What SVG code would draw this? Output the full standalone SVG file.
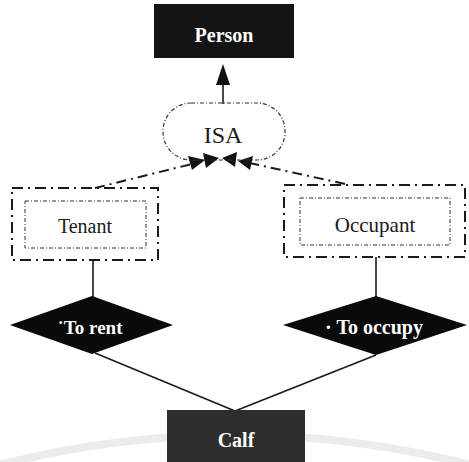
<svg xmlns="http://www.w3.org/2000/svg" width="469" height="462" viewBox="0 0 469 462">
<style>
.ent{fill:#141414}
.calf{fill:#2e2e2e}
.rel{fill:#0a0a0a}
.wt{font-family:"Liberation Serif",serif;font-weight:bold;fill:#fff;text-anchor:middle}
.bt{font-family:"Liberation Serif",serif;fill:#1a1a1a;text-anchor:middle}
.outer{fill:none;stroke:#1a1a1a;stroke-width:2;stroke-dasharray:11 5 2 5}
.inner{fill:none;stroke:#333;stroke-width:1;stroke-dasharray:4 2 1 2}
.isa{fill:none;stroke:#333;stroke-width:1.2;stroke-dasharray:4 2 1 2}
.dd{fill:none;stroke:#1a1a1a;stroke-width:2;stroke-dasharray:10 5 2 5}
.solid{fill:none;stroke:#1a1a1a;stroke-width:1.6}
.head{fill:#111}
</style>
<rect width="469" height="462" fill="#fff"/>
<path d="M-20,470 Q235,400 490,470" fill="none" stroke="#ececec" stroke-width="8"/>
<g id="connectors">
<line class="solid" x1="223" y1="104" x2="223" y2="82"/>
<polygon class="head" points="223,64 216,85 230,85"/>
<line class="dd" x1="95" y1="188" x2="200" y2="162"/>
<polygon class="head" points="205,160 188,156 192,170"/>
<polygon class="head" points="219,158 203,153 206,168"/>
<line class="dd" x1="345" y1="184" x2="245" y2="162"/>
<polygon class="head" points="222,158 237,152 235,167"/>
<polygon class="head" points="238,161 253,156 250,170"/>
<line class="solid" x1="93" y1="260" x2="93" y2="297"/>
<line class="solid" x1="376" y1="257" x2="376" y2="297"/>
<line class="solid" x1="95" y1="353" x2="235" y2="411"/>
<line class="solid" x1="376" y1="355" x2="235" y2="411"/>
</g>
<g id="person">
<rect class="ent" x="154" y="4" width="140" height="54"/>
<text class="wt" x="224" y="42" font-size="20">Person</text>
</g>
<g id="isa">
<rect class="isa" x="163" y="103" width="122" height="57" rx="28" ry="28"/>
<text class="bt" x="223" y="143" font-size="24">ISA</text>
</g>
<g id="tenant">
<rect class="outer" x="12" y="188" width="146" height="72"/>
<rect class="inner" x="25" y="201" width="121" height="47"/>
<text class="bt" x="85" y="233" font-size="20">Tenant</text>
</g>
<g id="occupant">
<rect class="outer" x="284" y="185" width="181" height="72"/>
<rect class="inner" x="300" y="198" width="150" height="47"/>
<text class="bt" x="375" y="232" font-size="21">Occupant</text>
</g>
<g id="to-rent">
<polygon class="rel" points="92,296 173,325 92,354 10,325"/>
<text class="wt" x="90" y="334" font-size="19">˙To rent</text>
</g>
<g id="to-occupy">
<polygon class="rel" points="376,296 467,325 376,355 283,325"/>
<text class="wt" x="374" y="334" font-size="20">· To occupy</text>
</g>
<g id="calf">
<rect class="calf" x="167" y="410" width="138" height="60"/>
<text class="wt" x="236" y="447" font-size="20">Calf</text>
</g>
</svg>
